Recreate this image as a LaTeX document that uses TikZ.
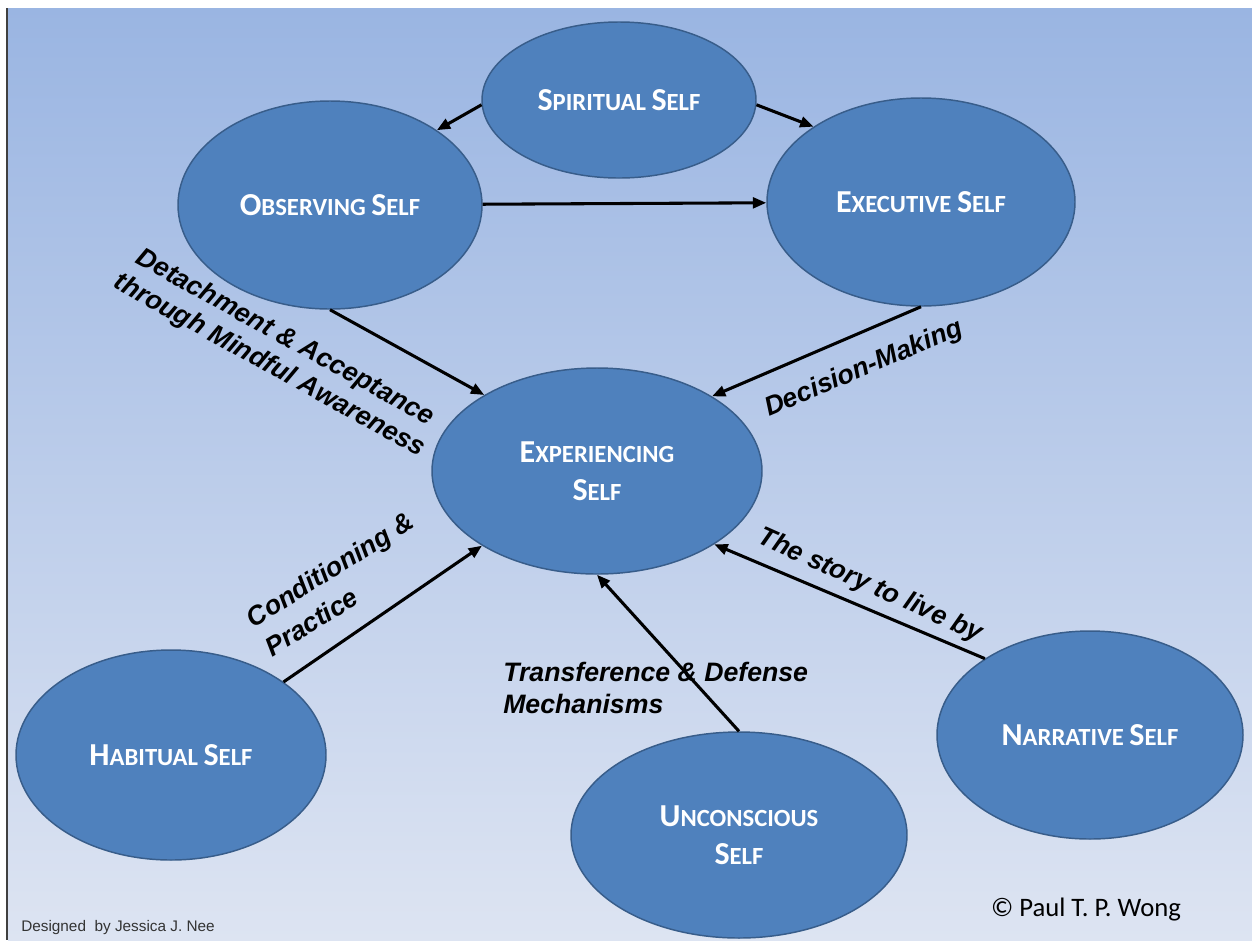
\documentclass[tikz,border=0pt]{standalone}
\usepackage{fontspec}
\setmainfont{Liberation Sans}
\newfontfamily\calibri{Carlito}
\usetikzlibrary{shapes.geometric,arrows.meta}

\definecolor{bgtop}{RGB}{154,181,226}
\definecolor{bgbot}{RGB}{221,228,242}
\definecolor{selfblue}{RGB}{79,129,189}
\definecolor{selfedge}{RGB}{56,93,138}

\newcommand\capl[1]{{\fontsize{24}{27}\selectfont #1}}

\begin{document}
\begin{tikzpicture}[x=0.75pt, y=-0.75pt,
  selfnode/.style 2 args={ellipse, draw=selfedge, fill=selfblue, line width=1.1pt, inner sep=0pt,
    minimum width=#1*1.5pt, minimum height=#2*1.5pt, text=white, align=center,
    font=\calibri\bfseries\fontsize{18.5}{28.5}\selectfont},
  link/.style={-{Triangle[length=10pt,width=8pt]}, line width=2.3pt},
  lbl/.style={font=\bfseries\itshape\fontsize{20}{24}\selectfont, inner sep=0pt}]
\fill[white] (0,0) rectangle (1252,940);
\useasboundingbox (0,0) rectangle (1252,940);
\shade[top color=bgtop, bottom color=bgbot] (8,8) rectangle (1252,940);
\draw[line width=1.2pt, black!75] (7,8) -- (7,940);

\node[selfnode={137}{78}] (spi) at (619,100) {\capl{S}PIRITUAL \capl{S}ELF};
\node[selfnode={152}{104}] (obs) at (330,205) {\capl{O}BSERVING \capl{S}ELF};
\node[selfnode={154}{104}] (exe) at (921,202) {\capl{E}XECUTIVE \capl{S}ELF};
\node[selfnode={165}{103}] (exp) at (597,471) {\capl{E}XPERIENCING\\\capl{S}ELF};
\node[selfnode={155}{105}] (hab) at (171,755) {\capl{H}ABITUAL \capl{S}ELF};
\node[selfnode={168}{103}] (unc) at (739,835) {\capl{U}NCONSCIOUS\\\capl{S}ELF};
\node[selfnode={153}{104}] (nar) at (1090,735) {\capl{N}ARRATIVE \capl{S}ELF};

\draw[link] (spi.182) -- (obs.35);
\draw[link] (spi.-2) -- (exe.145);
\draw[link] (obs) -- (exe);
\draw[link] (obs.south) -- (exp.146);
\draw[link] (exe.south) -- (exp.33);
\draw[link] (hab.33) -- (exp.213);
\draw[link] (unc.north) -- (exp.south);
\draw[link] (nar.144) -- (exp.-32);

\node[lbl, align=center, rotate=-29] (detach) at (277,352) {Detachment \& Acceptance\\through Mindful Awareness};
\node[lbl, rotate=23] (decide) at (864,369) {Decision-Making};
\node[lbl, align=left, rotate=32, font=\bfseries\itshape\fontsize{20}{26}\selectfont] (cond) at (339,584) {Conditioning \&\\Practice};
\node[lbl, align=left, anchor=west] (trans) at (503,688) {Transference \& Defense\\Mechanisms};
\node[lbl, rotate=-24] (story) at (870,586) {The story to live by};

\node[font=\calibri\fontsize{20}{24}\selectfont, inner sep=0pt] (copy) at (1086,910) {© Paul T. P. Wong};
\node[font=\fontsize{11.5}{14}\selectfont, text=black!80, anchor=west, inner sep=0pt] (design) at (21,928) {Designed \ by Jessica J. Nee};
\end{tikzpicture}
\end{document}
